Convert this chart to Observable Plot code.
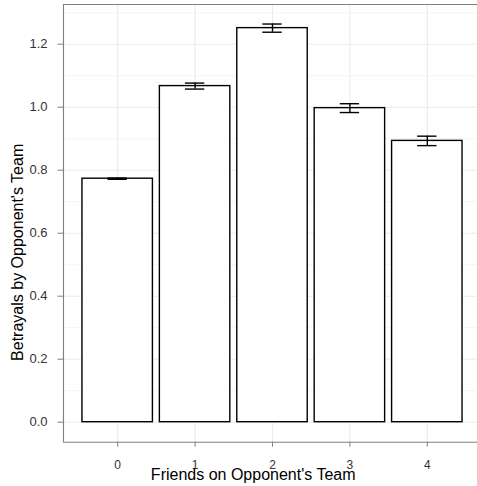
<!DOCTYPE html>
<html>
<head>
<meta charset="utf-8">
<script src="https://cdn.jsdelivr.net/npm/d3@7"></script>
<script src="https://cdn.jsdelivr.net/npm/@observablehq/plot@0.6"></script>
<style>
  html, body { margin: 0; padding: 0; background: #fff; }
  #chart svg { display: block; }
</style>
</head>
<body>
<div id="chart"></div>
<script>
const friends = [0, 1, 2, 3, 4];
const betrayals = [0.773, 1.067, 1.251, 0.997, 0.893];
const errors = [0.002, 0.0095, 0.013, 0.014, 0.015];
const yTicks = [0, 0.2, 0.4, 0.6, 0.8, 1.0, 1.2];
const yMinorTicks = [0.1, 0.3, 0.5, 0.7, 0.9, 1.1, 1.3];
const xTicks = [0, 1, 2, 3, 4];
const xTitle = "Friends on Opponent's Team";
const yTitle = "Betrayals by Opponent's Team";

const data = friends.map((k, i) => ({k, v: betrayals[i], e: errors[i]}));
const barHalf = 0.455;
const capHalf = 0.125;
const yDomain = [-0.0635, 1.326];
const xDomain = [-0.7, 4.7];

const chart = Plot.plot({
  width: 477,
  height: 486,
  marginLeft: 63,
  marginRight: 0,
  marginTop: 4,
  marginBottom: 44.3,
  style: {fontFamily: "'Liberation Sans', Arial, Helvetica, sans-serif", background: "#fff"},
  x: {domain: xDomain, range: [63, 481]},
  y: {domain: yDomain, range: [441.7, 4]},
  marks: [
    Plot.ruleY(yMinorTicks, {stroke: "#f4f4f4", strokeWidth: 1}),
    Plot.ruleY(yTicks, {stroke: "#ebebeb", strokeWidth: 1.1}),
    Plot.ruleX(xTicks, {stroke: "#ebebeb", strokeWidth: 1.1}),
    Plot.rectY(data, {x1: d => d.k - barHalf, x2: d => d.k + barHalf, y1: 0, y2: "v", fill: "white", stroke: "black", strokeWidth: 1.4}),
    Plot.ruleX(data, {x: "k", y1: d => d.v - d.e, y2: d => d.v + d.e, stroke: "black", strokeWidth: 1.4}),
    Plot.ruleY(data, {y: d => d.v - d.e, x1: d => d.k - capHalf, x2: d => d.k + capHalf, stroke: "black", strokeWidth: 1.4}),
    Plot.ruleY(data, {y: d => d.v + d.e, x1: d => d.k - capHalf, x2: d => d.k + capHalf, stroke: "black", strokeWidth: 1.4}),
    Plot.ruleY([yDomain[1]], {stroke: "#7f7f7f", strokeWidth: 1.1}),
    Plot.ruleY([yDomain[0]], {stroke: "#7f7f7f", strokeWidth: 1.1}),
    Plot.ruleX([xDomain[0]], {stroke: "#7f7f7f", strokeWidth: 1.1}),
    Plot.axisY(yTicks, {tickFormat: d3.format(".1f"), tickSize: 5.5, tickPadding: 10.5, stroke: "#7f7f7f", color: "#333", fontSize: 13, label: null}),
    Plot.axisX(xTicks, {tickFormat: d3.format("d"), tickSize: 5, tickPadding: 13, stroke: "#7f7f7f", color: "#333", fontSize: 12, label: null}),
    Plot.text([xTitle], {frameAnchor: "bottom", dx: -17.3, dy: 33, fontSize: 16, fill: "black", lineAnchor: "middle"}),
    Plot.text([yTitle], {frameAnchor: "left", dx: -46, dy: 29, fontSize: 16, fill: "black", rotate: -90, textAnchor: "middle", lineAnchor: "middle"})
  ]
});
document.getElementById("chart").append(chart);
</script>
</body>
</html>
